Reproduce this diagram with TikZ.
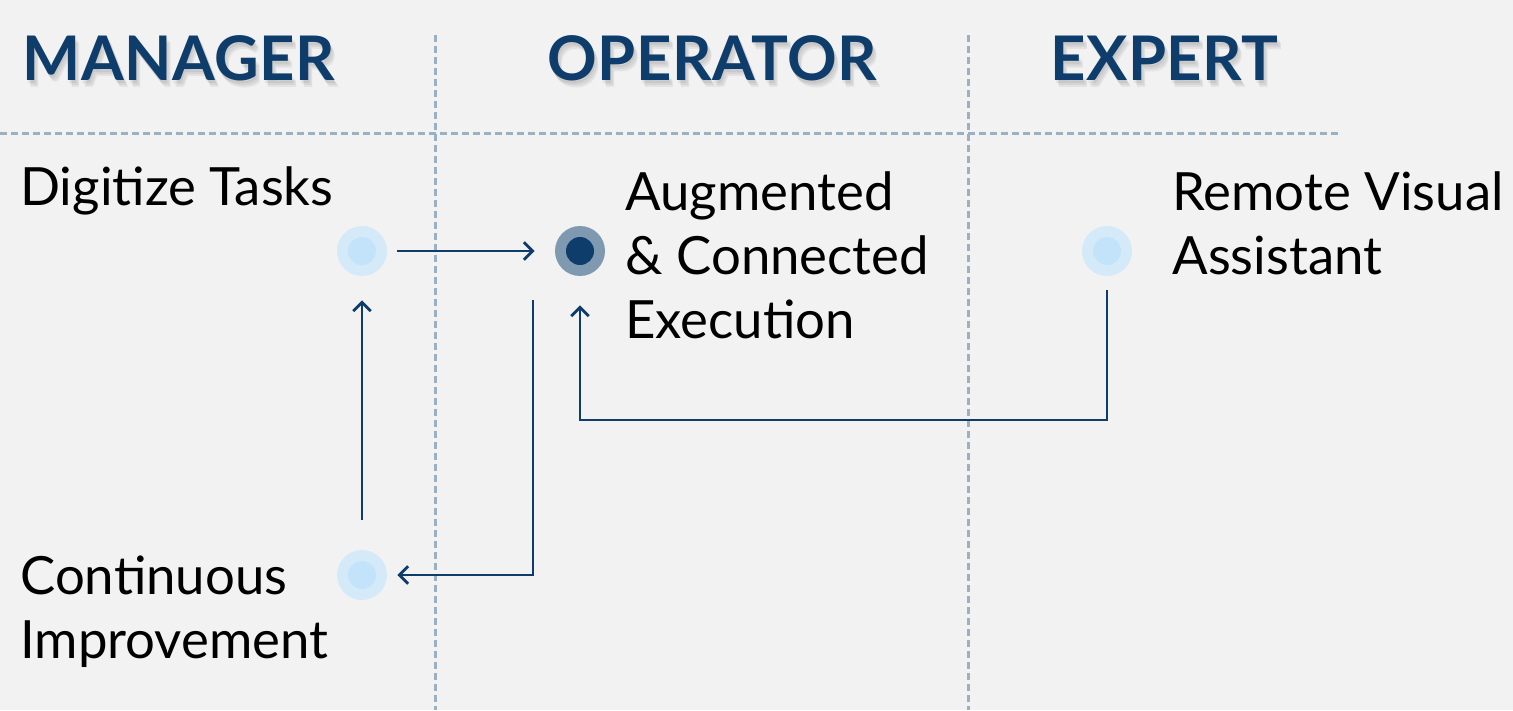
\documentclass[tikz,border=0pt]{standalone}
\usepackage{fontspec}
\setmainfont{Lato}
\newfontfamily\headfont[LetterSpace=1]{Lato Bold}
\usepackage{tikz}
\usetikzlibrary{arrows.meta,positioning}

\definecolor{navy}{HTML}{0E3D6B}
\definecolor{lanegray}{HTML}{9AB0C3}
\definecolor{paleout}{HTML}{D5EAF8}
\definecolor{palein}{HTML}{C2E3F9}
\definecolor{darkout}{HTML}{7F99B0}
\definecolor{bggray}{HTML}{F2F2F2}

\tikzset{
  lane/.style={lanegray, line width=0.6mm, dash pattern=on 1.4mm off 0.8mm},
  head/.style={anchor=base west, inner sep=0, text=navy, font=\headfont\fontsize{35}{40}\selectfont},
  headshade/.style={anchor=base west, inner sep=0, text=black, opacity=0.06, font=\headfont\fontsize{35}{40}\selectfont},
  label/.style={anchor=base west, inner sep=0, align=left, font=\fontsize{30}{36.4}\selectfont},
  softdot/.style={circle, minimum size=10mm, inner sep=0, fill=paleout,
    path picture={\fill[palein] (path picture bounding box.center) circle (2.8mm);}},
  keydot/.style={circle, minimum size=10mm, inner sep=0, fill=darkout,
    path picture={\fill[navy] (path picture bounding box.center) circle (2.8mm);}},
  flow/.style={navy, line width=1.6pt, -{Straight Barb[length=5pt,width=10pt,line width=1.6pt]}}
}

\begin{document}
\begin{tikzpicture}[x=0.02cm, y=-0.02cm]
  \fill[bggray] (0,0) rectangle (1513,710);
  \useasboundingbox (0,0) rectangle (1513,710);

  % lanes
  \draw[lane] (0,133) -- (1338,133);
  \draw[lane] (435,35) -- (435,710);
  \draw[lane] (968,35) -- (968,710);

  % headings, soft shadow first
  \foreach \dx/\dy in {1/3, 3/5, 4/7} {
    \node[headshade] at (22+\dx,80+\dy) {MANAGER};
    \node[headshade] at (547+\dx,80+\dy) {OPERATOR};
    \node[headshade] at (1050+\dx,80+\dy) {EXPERT};
  }
  \node[head] (manager) at (22,80) {MANAGER};
  \node[head] (operator) at (547,80) {OPERATOR};
  \node[head] (expert) at (1050,80) {EXPERT};

  % steps
  \node[softdot] (dt) at (362,251) {};
  \node[keydot] (ace) at (580,251) {};
  \node[softdot] (rva) at (1107,251) {};
  \node[softdot] (ci) at (362,575) {};

  % labels (base = last line)
  \node[label] (dtlabel) at (20,205) {Digitize Tasks};
  \node[label] (acelabel) at (625,338) {Augmented\\\& Connected\\Execution};
  \node[label] (rvalabel) at (1172,274) {Remote Visual\\Assistant};
  \node[label] (cilabel) at (20,658) {Continuous\\Improvement};

  % connectors
  \coordinate (backbar) at (845,420);
  \draw[flow, shorten <=2mm, shorten >=4mm] (dt) -- (ace);
  \draw[flow, shorten <=2.8mm, shorten >=5.8mm] (rva) |- (backbar) -| (ace);
  \draw[flow, shorten >=2mm] ([xshift=-9.4mm,yshift=-4.8mm]ace.south) |- (ci);
  \draw[flow, shorten <=6mm, shorten >=4.8mm] (ci) -- (dt);
\end{tikzpicture}
\end{document}
